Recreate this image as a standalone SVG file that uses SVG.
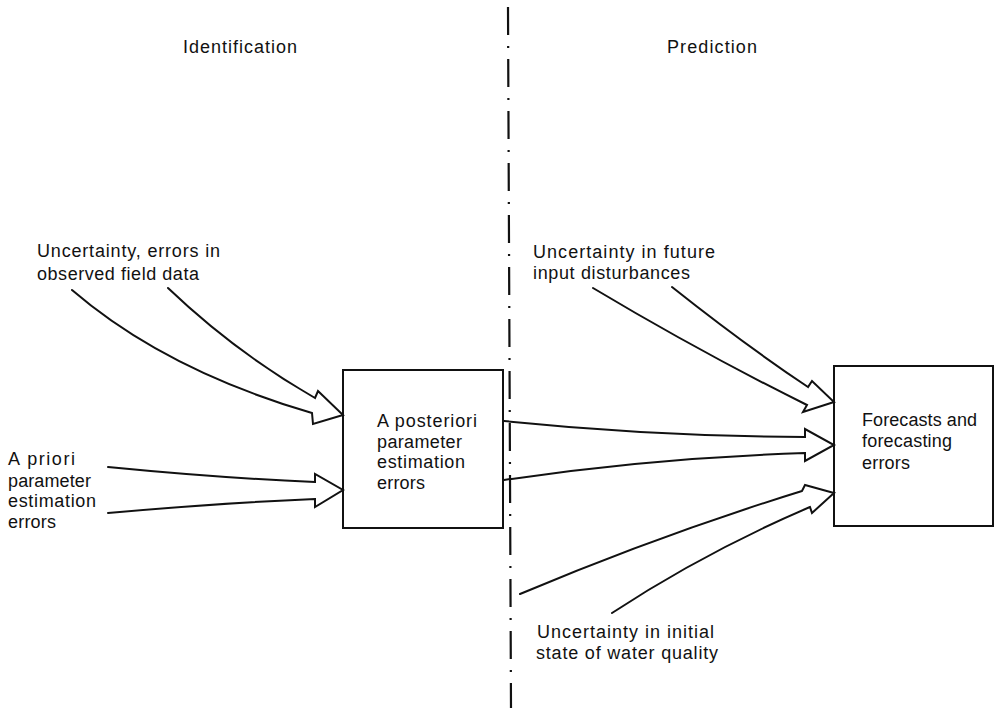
<svg xmlns="http://www.w3.org/2000/svg" width="999" height="708" viewBox="0 0 999 708">
  <style>
    text { font-family: "Liberation Sans", Arial, sans-serif; font-size: 18px; fill: #111; }
    .box { fill: #fff; stroke: #111; stroke-width: 2; }
    .arrow { fill: none; stroke: #111; stroke-width: 2; stroke-linejoin: miter; stroke-linecap: round; }
    .divider { stroke: #111; stroke-width: 2.2; stroke-dasharray: 28 11 2 11; fill: none; }
  </style>

  <!-- phase divider -->
  <line class="divider" x1="508" y1="7" x2="511" y2="708"/>

  <!-- phase headings -->
  <g id="heading-identification">
    <text x="183" y="53" textLength="114" lengthAdjust="spacing">Identification</text>
  </g>
  <g id="heading-prediction">
    <text x="667" y="53" textLength="90" lengthAdjust="spacing">Prediction</text>
  </g>

  <!-- input labels -->
  <g id="field-data">
    <text x="37" y="257" textLength="183" lengthAdjust="spacing">Uncertainty, errors in</text>
    <text x="37" y="280" textLength="162" lengthAdjust="spacing">observed field data</text>
  </g>
  <g id="a-priori">
    <text x="8" y="465" textLength="67" lengthAdjust="spacing">A priori</text>
    <text x="8" y="486.5" textLength="83" lengthAdjust="spacing">parameter</text>
    <text x="8" y="507" textLength="88" lengthAdjust="spacing">estimation</text>
    <text x="8" y="527.5" textLength="48" lengthAdjust="spacing">errors</text>
  </g>
  <g id="future-inputs">
    <text x="533" y="258" textLength="182" lengthAdjust="spacing">Uncertainty in future</text>
    <text x="533" y="279" textLength="157" lengthAdjust="spacing">input disturbances</text>
  </g>
  <g id="initial-state">
    <text x="537" y="638" textLength="177" lengthAdjust="spacing">Uncertainty in initial</text>
    <text x="536" y="659" textLength="182" lengthAdjust="spacing">state of water quality</text>
  </g>

  <!-- boxes -->
  <g id="a-posteriori">
    <rect class="box" x="343" y="370" width="160" height="158"/>
    <text x="377" y="427" textLength="100" lengthAdjust="spacing">A posteriori</text>
    <text x="377" y="447.5" textLength="85" lengthAdjust="spacing">parameter</text>
    <text x="377" y="468" textLength="88" lengthAdjust="spacing">estimation</text>
    <text x="377" y="488.5" textLength="48" lengthAdjust="spacing">errors</text>
  </g>
  <g id="forecasts">
    <rect class="box" x="834" y="366" width="159" height="160"/>
    <text x="862" y="426" textLength="115" lengthAdjust="spacing">Forecasts and</text>
    <text x="862" y="447" textLength="90" lengthAdjust="spacing">forecasting</text>
    <text x="862" y="469" textLength="48" lengthAdjust="spacing">errors</text>
  </g>

  <!-- connectors: paired shafts closing into an open arrowhead -->
  <g id="connectors">
    <path class="arrow" d="M168,288 Q235,352 315,398 L318,391 L343,415 L313,424 L312,413 Q165,370 72,290"/>
    <path class="arrow" d="M108,467 Q220,478 315,482 L315,474 L343,490 L315,507 L315,499 Q220,503 108,513"/>
    <path class="arrow" d="M504,421 Q650,436 805,437 L805,429 L834,445 L805,461 L805,453 Q650,458 504,480"/>
    <path class="arrow" d="M672,287 Q745,345 808,387 L812,381 L834,402 L803,412 L807,405 Q700,352 593,288"/>
    <path class="arrow" d="M520,594 Q660,535 802,491 L805,485 L834,493 L812,513 L810,507 Q705,552 612,613"/>
  </g>
</svg>
